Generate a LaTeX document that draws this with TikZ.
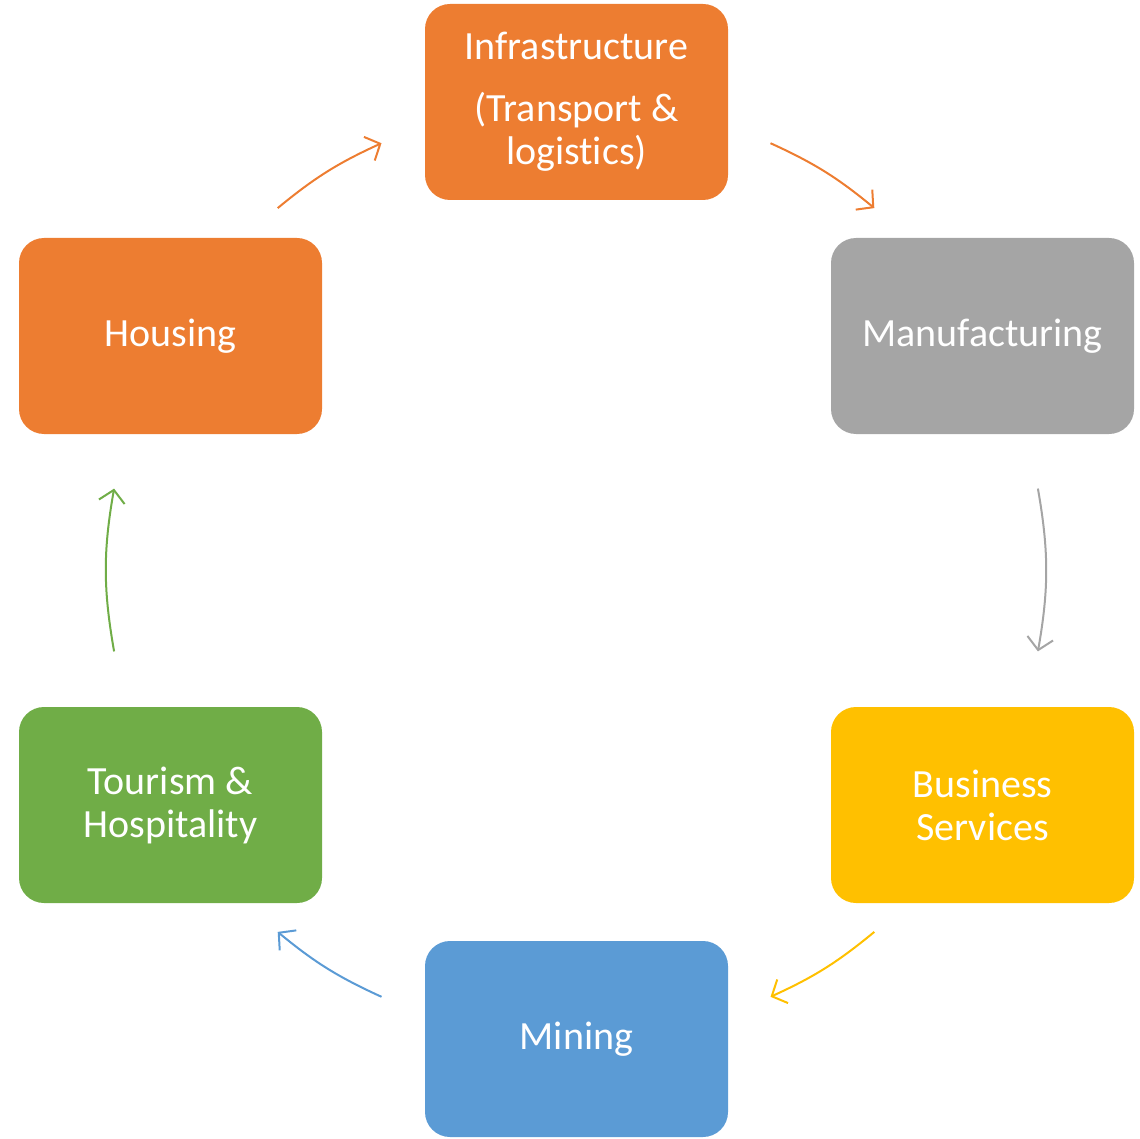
\documentclass[tikz,border=0pt]{standalone}
\usepackage{fontspec}
\setmainfont{Carlito}[Ligatures=CommonOff]
\usetikzlibrary{arrows.meta}
\definecolor{corange}{HTML}{ED7D31}
\definecolor{cgray}{HTML}{A5A5A5}
\definecolor{cyellow}{HTML}{FFC000}
\definecolor{cblue}{HTML}{5B9BD5}
\definecolor{cgreen}{HTML}{70AD47}
\begin{document}
\begin{tikzpicture}[x=1pt,y=1pt,
  box/.style={rectangle, rounded corners=25pt, minimum width=303pt, minimum height=196pt,
    inner sep=0pt, align=center, text=white, font=\fontsize{40}{43}\selectfont},
  conn/.style={line width=2pt, -{Straight Barb[length=12pt,width=26pt,line width=2pt]}}]
\useasboundingbox (0,0) rectangle (1140,-1139);
\node[box, fill=corange] (infra) at (576.5,-102) {Infrastructure\\[19pt](Transport \&\\logistics)};
\node[box, fill=cgray] (manu) at (982.5,-336) {Manufacturing};
\node[box, fill=cyellow] (bus) at (982.5,-805) {Business\\Services};
\node[box, fill=cblue] (mining) at (576.5,-1039) {Mining};
\node[box, fill=cgreen] (tour) at (170.5,-805) {Tourism \&\\Hospitality};
\node[box, fill=corange] (housing) at (170.5,-336) {Housing};
\coordinate (a1s) at (277.7,-208.1); \coordinate (a1e) at (381.5,-143.2);
\coordinate (a2s) at (770.5,-143.2); \coordinate (a2e) at (874.3,-208.1);
\coordinate (a3s) at (1037.9,-488.6); \coordinate (a3e) at (1037.9,-651.4);
\coordinate (a4s) at (874.3,-931.9); \coordinate (a4e) at (770.5,-996.8);
\coordinate (a5s) at (381.5,-996.8); \coordinate (a5e) at (277.7,-931.9);
\coordinate (a6s) at (114.1,-651.4); \coordinate (a6e) at (114.1,-488.6);
\draw[conn, corange] (a1s) to[bend left=7.5] (a1e);
\draw[conn, corange] (a2s) to[bend left=7.5] (a2e);
\draw[conn, cgray] (a3s) to[bend left=10] (a3e);
\draw[conn, cyellow] (a4s) to[bend left=7.5] (a4e);
\draw[conn, cblue] (a5s) to[bend left=7.5] (a5e);
\draw[conn, cgreen] (a6s) to[bend left=10] (a6e);
\end{tikzpicture}
\end{document}
